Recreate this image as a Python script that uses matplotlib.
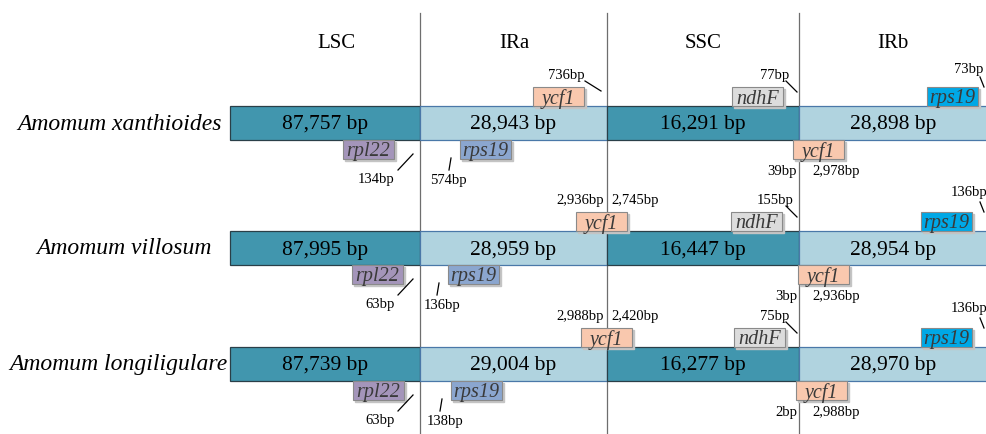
import matplotlib.pyplot as plt
from matplotlib.patches import Rectangle

# data
species = ["Amomum xanthioides", "Amomum villosum", "Amomum longiligulare"]
regions = ["LSC", "IRa", "SSC", "IRb"]
lsc = [87757, 87995, 87739]
ira = [28943, 28959, 29004]
ssc = [16291, 16447, 16277]
irb = [28898, 28954, 28970]
rpl22_bp = ["134bp", "63bp", "63bp"]
rps19a_bp = ["574bp", "136bp", "138bp"]
ycf1a_left = [None, "2,936bp", "2,988bp"]
ycf1a_right = ["736bp", "2,745bp", "2,420bp"]
ndhf_bp = ["77bp", "155bp", "75bp"]
ycf1b_left = ["39bp", "3bp", "2bp"]
ycf1b_right = ["2,978bp", "2,936bp", "2,988bp"]
rps19b_bp = ["73bp", "136bp", "136bp"]

# layout (pixel units)
bar_top = [107, 232, 348]
bar_h = 34
box_h = 19
xb = [230, 420, 607, 799, 990]
name_x = [120, 124, 118]
rpl22_x = [343, 352, 353]
rps19a_x = [460, 448, 451]
ycf1a_x = [533, 576, 581]
ndhf_x = [732, 731, 734]
ycf1b_x = [793, 798, 796]
rps19b_x = [927, 921, 921]

dark = "#4196ae"
light = "#b0d3df"
serif = "Liberation Serif"

fig = plt.figure(figsize=(9.87, 4.35), dpi=100)
ax = fig.add_axes([0, 0, 1, 1])
ax.set_xlim(0, 987)
ax.set_ylim(435, 0)
ax.axis("off")

for x in xb[1:4]:
    ax.plot([x, x], [14, 435], color="#6e6e6e", lw=0.9, zorder=1)

hx = [336, 514, 703, 893]
for i, r in enumerate(regions):
    ax.text(hx[i], 44, r, ha="center", va="center", fontsize=15, family=serif)


def gene(x, y, name, fc):
    ax.add_patch(Rectangle((x + 1.5, y + 1.5), 51, box_h, color="#c4c4c4", zorder=3))
    ax.add_patch(Rectangle((x, y), 51, box_h, facecolor=fc, edgecolor="#8a8a8a", lw=0.8, zorder=4))
    ax.text(x + 25.5, y + box_h / 2 + 1.5, name, ha="center", va="center", fontsize=14.5,
            family=serif, style="italic", color="#3a3a3a", zorder=5)


def small(x, y, s, ha="center"):
    ax.text(x, y, s, ha=ha, va="center", fontsize=10.5, family=serif, zorder=5)


def tick(x0, y0, x1, y1):
    ax.plot([x0, x1], [y0, y1], color="black", lw=0.9, zorder=5)


for k in range(3):
    t = bar_top[k]
    vals = [lsc[k], ira[k], ssc[k], irb[k]]
    cols = [dark, light, dark, light]
    for j in range(4):
        ax.add_patch(Rectangle((xb[j], t), xb[j + 1] - xb[j], bar_h, facecolor=cols[j],
                               edgecolor="#2a3f48" if cols[j] == dark else "#4a78a8", lw=0.9, zorder=2))
        ax.text((xb[j] + xb[j + 1]) / 2 if j < 3 else 893, t + bar_h / 2 + 1,
                f"{vals[j]:,} bp", ha="center", va="center", fontsize=15.5, family=serif, zorder=5)
    ax.text(name_x[k], t + bar_h / 2, species[k], ha="center", va="center", fontsize=17,
            family=serif, style="italic")

    top = t - box_h
    bot = t + bar_h
    gene(ycf1a_x[k], top, "ycf1", "#f9c8ae")
    gene(ndhf_x[k], top, "ndhF", "#dcdcdc")
    gene(rps19b_x[k], top, "rps19", "#00a8e6")
    gene(rpl22_x[k], bot, "rpl22", "#a495ba")
    gene(rps19a_x[k], bot, "rps19", "#8ba6cf")
    gene(ycf1b_x[k], bot, "ycf1", "#f9c8ae")

    # labels above
    if ycf1a_left[k] is None:
        small(566, top - 12, ycf1a_right[k])
        tick(585, top - 6, 601, top + 4)
    else:
        small(604, top - 12, ycf1a_left[k], ha="right")
        small(611, top - 12, ycf1a_right[k], ha="left")
    small(775, top - 12, ndhf_bp[k])
    tick(786, top - 6, 797, top + 5)
    small(969, top - 19 if k == 0 else top - 20, rps19b_bp[k])
    tick(980, top - 10, 984, top)

    # labels below
    small(380 if k else 376, bot + 39, rpl22_bp[k])
    tick(413, bot + 14, 398, bot + 30)
    small(rps19a_x[k] - 6 if k else 448, bot + 40, rps19a_bp[k])
    tick(rps19a_x[k] - 9, bot + 18, rps19a_x[k] - 11, bot + 30)
    small(797, bot + 31, ycf1b_left[k], ha="right")
    small(812, bot + 31, ycf1b_right[k], ha="left")

fig.savefig("out.png", dpi=100)
